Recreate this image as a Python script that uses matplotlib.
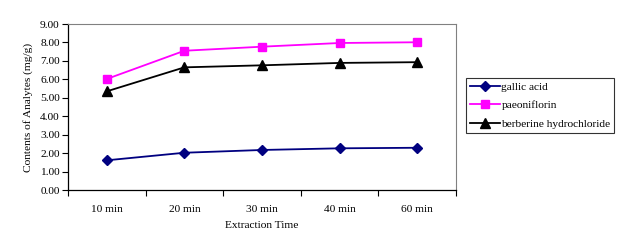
import matplotlib
matplotlib.use("Agg")
import matplotlib.pyplot as plt
import numpy as np

categories = ["10 min", "20 min", "30 min", "40 min", "60 min"]
gallic_acid = [1.61, 2.02, 2.17, 2.26, 2.29]
paeoniflorin = [6.02, 7.55, 7.77, 7.97, 8.01]
berberine = [5.35, 6.65, 6.76, 6.89, 6.93]
yticks = [0, 1, 2, 3, 4, 5, 6, 7, 8, 9]

plt.rcParams['font.family'] = ['Liberation Serif', 'DejaVu Serif']
fs = 8.2

fig = plt.figure(figsize=(6.23, 2.52), dpi=100)
W, H = 623, 252
ax = fig.add_axes([68 / W, 1 - 190 / H, (456 - 68) / W, (190 - 24) / H])

x = np.arange(len(categories))
ax.plot(x, gallic_acid, color="#000080", marker="D", markersize=5, lw=1.3, label="gallic acid")
ax.plot(x, paeoniflorin, color="#FF00FF", marker="s", markersize=5.5, lw=1.3, label="paeoniflorin")
ax.plot(x, berberine, color="black", marker="^", markersize=6.5, lw=1.3, label="berberine hydrochloride")

ax.set_xlim(-0.5, len(categories) - 0.5)
ax.set_ylim(0, 9)
ax.set_yticks(yticks)
ax.set_yticklabels([f"{v:.2f}" for v in yticks], fontsize=fs)
ax.set_xticks(np.arange(-0.5, len(categories), 1.0))
ax.set_xticklabels([])
ax.set_xticks(x, minor=True)
ax.set_xticklabels(categories, minor=True, fontsize=fs)
ax.tick_params(axis="x", which="minor", length=0, pad=11)
ax.tick_params(axis="x", which="major", length=4, direction="out", width=0.8)
ax.tick_params(axis="y", length=4, direction="out", width=0.8, pad=2)

for s in ["top", "right"]:
    ax.spines[s].set_color("#808080")
    ax.spines[s].set_linewidth(0.8)
for s in ["left", "bottom"]:
    ax.spines[s].set_color("black")
    ax.spines[s].set_linewidth(0.9)

ax.set_xlabel("Extraction Time", fontsize=fs, labelpad=5)
ax.set_ylabel("Contents of Analytes (mg/g)", fontsize=fs, labelpad=5)

leg = fig.legend(loc="upper left", bbox_to_anchor=(466 / W, 1 - 78 / H),
                 fontsize=fs, frameon=True, fancybox=False, edgecolor="black",
                 handlelength=2.6, borderpad=0.35, labelspacing=0.75, handletextpad=0.15,
                 borderaxespad=0)
leg.get_frame().set_linewidth(0.8)

fig.savefig("out.png", dpi=100)
